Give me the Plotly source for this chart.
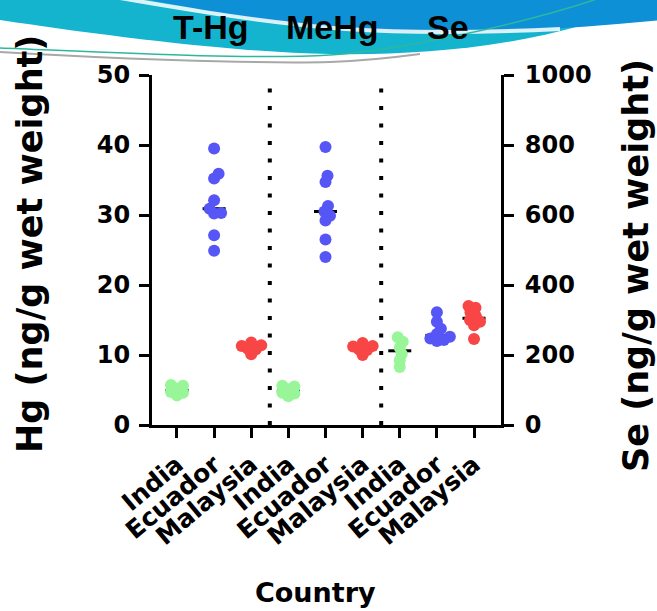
import numpy as np
import plotly.graph_objects as go

# ---------------- data ----------------
categories = ["India", "Ecuador", "Malaysia"]
analytes = ["T-Hg", "MeHg", "Se"]
hg_ticks = [0, 10, 20, 30, 40, 50]
se_ticks = [0, 200, 400, 600, 800, 1000]

thg_india = [4.2, 4.6, 4.7, 5.2, 5.6, 5.7]
thg_ecuador = [39.5, 35.9, 35.2, 32.1, 30.9, 30.3, 30.2, 27.1, 24.9]
thg_malaysia = [10.1, 10.8, 10.9, 11.3, 11.4, 11.8]

mehg_india = [4.1, 4.5, 4.6, 5.1, 5.5, 5.6]
mehg_ecuador = [39.7, 35.6, 34.7, 31.3, 30.5, 29.9, 29.2, 26.5, 24.0]
mehg_malaysia = [10.0, 10.7, 10.8, 11.2, 11.3, 11.7]

se_india = [166, 185, 203, 221, 238, 251]
se_ecuador = [240, 243, 247, 252, 260, 275, 295, 322]
se_malaysia = [246, 285, 295, 300, 310, 322, 335, 340]

colors = {"India": "#98F698", "Ecuador": "#5656F6", "Malaysia": "#F84646"}

# ---------------- geometry ----------------
W, H = 657, 611
L, R, T, B = 152, 501, 75, 425          # plot box (pixels)
x_range = [-0.673, 8.727]
px_per_cat = (R - L) / (x_range[1] - x_range[0])
ppu_hg = (B - T) / 50.0
ppu_se = (B - T) / 1000.0
MS = 12


def paper(px, py):
    return (px - L) / (R - L), (B - py) / (B - T)


def swarm(vals, ppu, d=MS, thr=0.55):
    vals = np.asarray(vals, float)
    offs = np.zeros(len(vals))
    placed = []
    lim = (d * thr) ** 2
    for i in np.argsort(vals, kind="stable"):
        y = vals[i] * ppu
        step = 0
        while True:
            cands = [0.0] if step == 0 else [step * 0.5, -step * 0.5]
            ok = None
            for x in cands:
                if all((x - a) ** 2 + (y - b) ** 2 >= lim for a, b in placed):
                    ok = x
                    break
            if ok is not None:
                break
            step += 1
        offs[i] = ok
        placed.append((ok, y))
    return offs / px_per_cat


series = [
    ("T-Hg", "India", thg_india), ("T-Hg", "Ecuador", thg_ecuador), ("T-Hg", "Malaysia", thg_malaysia),
    ("MeHg", "India", mehg_india), ("MeHg", "Ecuador", mehg_ecuador), ("MeHg", "Malaysia", mehg_malaysia),
    ("Se", "India", se_india), ("Se", "Ecuador", se_ecuador), ("Se", "Malaysia", se_malaysia),
]

fig = go.Figure()

# median lines (drawn under points)
med = {"y": ([], []), "y2": ([], [])}
for an, cat, vals in series:
    xi = analytes.index(an) * 3 + categories.index(cat)
    ax = "y2" if an == "Se" else "y"
    m = float(np.median(vals))
    med[ax][0].extend([xi - 0.31, xi + 0.31, None])
    med[ax][1].extend([m, m, None])
for ax, (xs, ys) in med.items():
    fig.add_trace(go.Scatter(x=xs, y=ys, mode="lines", yaxis=ax,
                             line=dict(color="black", width=3), hoverinfo="skip"))

for an, cat, vals in series:
    xi = analytes.index(an) * 3 + categories.index(cat)
    ax = "y2" if an == "Se" else "y"
    ppu = ppu_se if an == "Se" else ppu_hg
    offs = swarm(vals, ppu)
    fig.add_trace(go.Scatter(x=xi + offs, y=vals, mode="markers", yaxis=ax,
                             marker=dict(color=colors[cat], size=MS, line=dict(width=0))))

# ---------------- decorations ----------------
def ppath(cmds, close=True):
    parts = []
    for c, pts in cmds:
        parts.append(c + " " + " ".join("%.4f,%.4f" % paper(*p) for p in pts))
    return " ".join(parts) + (" Z" if close else "")


shapes = []
# cyan band
shapes.append(dict(type="path", xref="paper", yref="paper", layer="below",
                   path=ppath([("M", [(0, -5)]), ("L", [(662, -5), (662, 28)]),
                               ("C", [(560, 45), (430, 56), (330, 54)]),
                               ("C", [(230, 52), (100, 35), (0, 20)])]),
                   fillcolor="#14B4CF", line=dict(width=0)))
# dark blue region
shapes.append(dict(type="path", xref="paper", yref="paper", layer="below",
                   path=ppath([("M", [(125, -5)]), ("C", [(200, 10), (270, 24), (340, 30)]),
                               ("C", [(450, 36), (560, 30), (662, 20)]),
                               ("L", [(662, -5)])]),
                   fillcolor="#0E90D6", line=dict(width=0)))
# white streak
shapes.append(dict(type="path", xref="paper", yref="paper", layer="below",
                   path=ppath([("M", [(120, -2)]), ("C", [(190, 10), (260, 22), (345, 29)]),
                               ("C", [(420, 34), (500, 32), (560, 29)])], close=False),
                   line=dict(color="rgba(255,255,255,0.85)", width=4)))
# thin teal line
shapes.append(dict(type="path", xref="paper", yref="paper", layer="below",
                   path=ppath([("M", [(0, 48)]), ("C", [(100, 52), (250, 60), (330, 55)]),
                               ("C", [(400, 50), (520, 25), (600, -2)])], close=False),
                   line=dict(color="#2DB89E", width=1.5)))
# thin grey line
shapes.append(dict(type="path", xref="paper", yref="paper", layer="below",
                   path=ppath([("M", [(0, 52)]), ("C", [(100, 58), (250, 64), (330, 62)]),
                               ("C", [(360, 61), (390, 58), (420, 54)])], close=False),
                   line=dict(color="#A8A8A8", width=2)))
# dotted separators
for xs in (2.5, 5.5):
    shapes.append(dict(type="line", xref="x", yref="paper", x0=xs, x1=xs, y0=0, y1=1,
                       line=dict(color="black", width=4, dash="4px,13.5px")))

# ---------------- text ----------------
annotations = []
title_font = dict(family="Liberation Sans, Arial", size=34, color="black", weight="bold")
for txt, cx in zip(analytes, (211, 332, 448)):
    X, Y = paper(cx, 27)
    annotations.append(dict(text=txt, x=X, y=Y, xref="paper", yref="paper", showarrow=False,
                            xanchor="center", yanchor="middle", font=title_font))

lab_font = dict(family="DejaVu Sans", size=35, color="black", weight="bold")
X, Y = paper(30, 244)
annotations.append(dict(text="Hg (ng/g wet weight)", x=X, y=Y, xref="paper", yref="paper",
                        showarrow=False, textangle=-90, xanchor="center", yanchor="middle",
                        font=lab_font))
X, Y = paper(636, 266)
annotations.append(dict(text="Se (ng/g wet weight)", x=X, y=Y, xref="paper", yref="paper",
                        showarrow=False, textangle=-90, xanchor="center", yanchor="middle",
                        font=lab_font))
X, Y = paper(315, 592)
annotations.append(dict(text="Country", x=X, y=Y, xref="paper", yref="paper",
                        showarrow=False, xanchor="center", yanchor="middle",
                        font=dict(family="DejaVu Sans", size=27, color="black", weight="bold")))

tick_font = dict(family="DejaVu Sans", size=24, color="black", weight="bold")
axis_common = dict(ticks="outside", ticklen=10, tickwidth=3, tickcolor="black",
                   showline=True, linewidth=3, linecolor="black",
                   showgrid=False, zeroline=False, tickfont=tick_font)

fig.update_layout(
    width=W, height=H, autosize=False,
    margin=dict(l=L, r=W - R, t=T, b=H - B, pad=0),
    paper_bgcolor="white", plot_bgcolor="rgba(0,0,0,0)",
    showlegend=False,
    xaxis=dict(range=x_range, tickmode="array", tickvals=list(range(9)),
               ticktext=categories * 3, tickangle=-40, ticklabelstandoff=2,
               **{**axis_common, "tickfont": dict(family="DejaVu Sans", size=25,
                                                   color="black", weight="bold")}),
    yaxis=dict(range=[0, 50], tickmode="array", tickvals=hg_ticks,
               ticklabelstandoff=4, **axis_common),
    yaxis2=dict(range=[0, 1000], tickmode="array", tickvals=se_ticks,
                overlaying="y", side="right", ticklabelstandoff=6, **axis_common),
    shapes=shapes,
    annotations=annotations,
)

fig.write_html("out.html", config={"displayModeBar": False},
               post_script="document.body.style.margin='0';")
